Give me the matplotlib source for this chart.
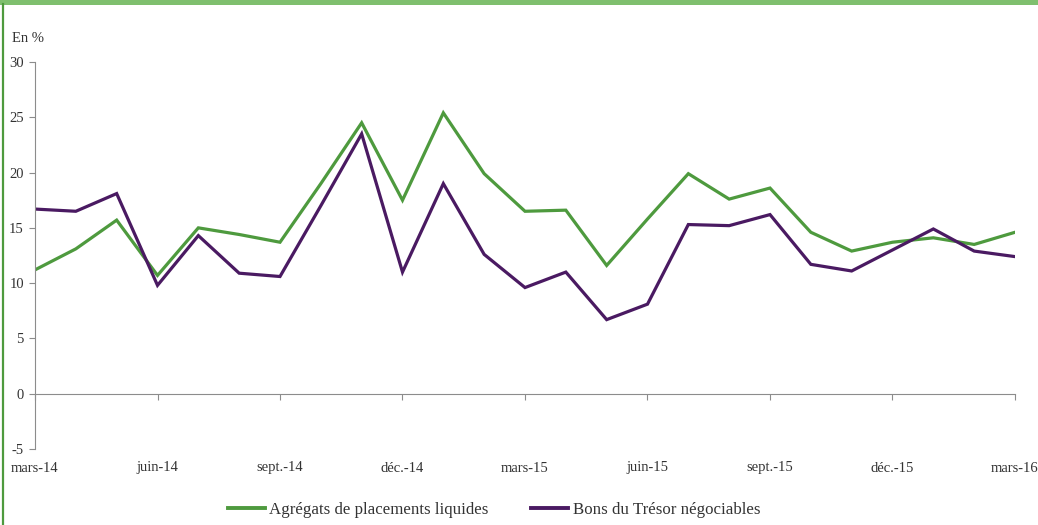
import matplotlib
matplotlib.use("Agg")
import matplotlib.pyplot as plt
from matplotlib.lines import Line2D

# Monthly series, mars-14 .. mars-16 (en %)
months = list(range(25))
agregats = [11.2, 13.1, 15.7, 10.7, 15.0, 14.4, 13.7, 19.0, 24.5, 17.5, 25.4, 19.9, 16.5,
            16.6, 11.6, 15.8, 19.9, 17.6, 18.6, 14.6, 12.9, 13.7, 14.1, 13.5, 14.6]
bons_tresor = [16.7, 16.5, 18.1, 9.8, 14.3, 10.9, 10.6, 17.0, 23.5, 11.0, 19.0, 12.6, 9.6,
               11.0, 6.7, 8.1, 15.3, 15.2, 16.2, 11.7, 11.1, 13.0, 14.9, 12.9, 12.4]
tick_pos = [0, 3, 6, 9, 12, 15, 18, 21, 24]
tick_labels = ['mars-14', 'juin-14', 'sept.-14', 'déc.-14', 'mars-15',
               'juin-15', 'sept.-15', 'déc.-15', 'mars-16']
y_ticks = [-5, 0, 5, 10, 15, 20, 25, 30]

plt.rcParams['font.family'] = ['Liberation Serif', 'DejaVu Serif']
plt.rcParams['axes.unicode_minus'] = False

green = '#4e9a3e'
purple = '#4a1a62'
axis_col = '#8c8c8c'
text_col = '#333333'

fig = plt.figure(figsize=(10.38, 5.25), dpi=100)
ax = fig.add_axes([35 / 1038, 76 / 525, 980 / 1038, 387 / 525])

ax.plot(months, agregats, color=green, lw=2.3, solid_joinstyle='miter')
ax.plot(months, bons_tresor, color=purple, lw=2.3, solid_joinstyle='miter')

ax.set_xlim(0, 24)
ax.set_ylim(-5, 30)
ax.set_yticks(y_ticks)
ax.tick_params(axis='y', direction='out', length=4, color=axis_col,
               labelsize=10.5, labelcolor=text_col, pad=4)

# x axis line sits on zero, labels stay at the bottom
for s in ['top', 'right']:
    ax.spines[s].set_visible(False)
ax.spines['left'].set_color(axis_col)
ax.spines['bottom'].set_color(axis_col)
ax.spines['bottom'].set_position(('data', 0))
ax.set_xticks(tick_pos)
ax.tick_params(axis='x', direction='out', length=4, color=axis_col, labelbottom=False)

sec = ax.secondary_xaxis('bottom')
sec.set_xticks(tick_pos)
sec.set_xticklabels(tick_labels)
sec.tick_params(length=0, pad=9, labelsize=10.5, labelcolor=text_col)
sec.spines['bottom'].set_visible(False)

fig.text(12 / 1038, 1 - 38 / 525, 'En %', fontsize=10.5, color=text_col, va='center')

handles = [Line2D([], [], color=green, lw=2.8), Line2D([], [], color=purple, lw=2.8)]
fig.legend(handles, ['Agrégats de placements liquides', 'Bons du Trésor négociables'],
           loc='center', bbox_to_anchor=(494 / 1038, 1 - 510 / 525), ncol=2, frameon=False,
           fontsize=12.2, handlelength=2.2, handletextpad=0.25, columnspacing=2.5,
           labelcolor=text_col, borderpad=0, borderaxespad=0)

# green frame decoration
fig.add_artist(Line2D([0, 1], [1 - 2 / 525, 1 - 2 / 525], transform=fig.transFigure,
                      color='#7fbf6e', lw=3.6))
fig.add_artist(Line2D([2.5 / 1038, 2.5 / 1038], [0, 1 - 4 / 525], transform=fig.transFigure,
                      color='#4e9a3e', lw=1.6))

fig.savefig('out.png', dpi=100)
